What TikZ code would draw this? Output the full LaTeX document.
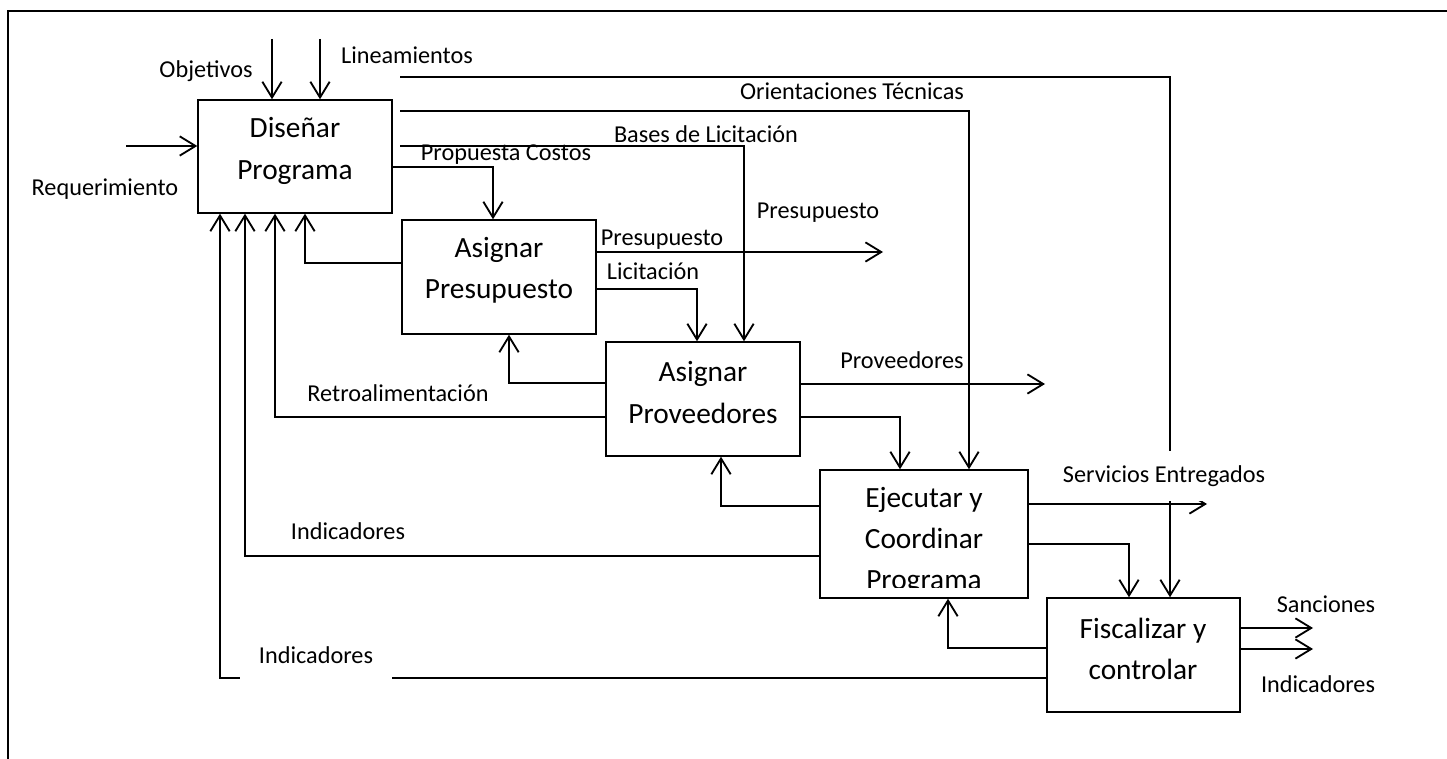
\documentclass[tikz,border=0pt]{standalone}
\usepackage{fontspec}
\setmainfont{Carlito}
\usetikzlibrary{arrows.meta,fit}

\tikzset{
  box/.style={draw, line width=0.8pt, inner sep=0pt},
  boxtext/.style={align=center, font=\fontsize{16.7}{23.5}\selectfont, inner sep=0pt},
  lbl/.style={font=\fontsize{13.8}{16}\selectfont, inner sep=1pt},
  flow/.style={draw, line width=1.05pt, -{Straight Barb[length=9pt,width=11pt]}},
  frame/.style={draw, line width=1.3pt}
}

\begin{document}
\begin{tikzpicture}[x=0.02cm, y=-0.02cm]
\useasboundingbox (0,0) rectangle (1447,759);

% open outer frame (top and left edges only)
\coordinate (fTR) at (1447,11);
\coordinate (fTL) at (8,11);
\coordinate (fBL) at (8,759);
\draw[frame] (fTR) -- (fTL) -- (fBL);

% process boxes
\node[box, fit={(198,100) (392,213)}] (A) {};
\node[box, fit={(402,220) (596,334)}] (B) {};
\node[box, fit={(606,342) (800,456)}] (C) {};
\node[box, fit={(820,470) (1028,598)}] (D) {};
\node[box, fit={(1047,598) (1240,712)}] (E) {};

% box captions
\node[boxtext] (At) at (295,151) {Diseñar\\Programa};
\node[boxtext] (Bt) at (499,270.5) {Asignar\\Presupuesto};
\node[boxtext] (Ct) at (703,392.5) {Asignar\\Proveedores};
\begin{scope}
  \clip (820,470) rectangle (1028,588);
  \node[boxtext, font=\fontsize{16.7}{23.2}\selectfont] (Dt) at (924,541) {Ejecutar y\\Coordinar\\Programa};
\end{scope}
\node[boxtext] (Et) at (1143,649) {Fiscalizar y\\controlar};

% inputs and controls of the first box
\coordinate (obj) at (272,39);
\coordinate (lin) at (320,39);
\coordinate (req) at (126,146);
\draw[flow] (obj) -- (obj |- A.north);
\draw[flow] (lin) -- (lin |- A.north);
\draw[flow] (req) -- (req -| A.west);

% outputs of the first box
\coordinate (o1) at (400,77);  \coordinate (o1c) at (1170,77);
\coordinate (o2) at (400,111); \coordinate (o2c) at (969,111);
\coordinate (o3) at (400,146); \coordinate (o3c) at (744,146);
\coordinate (o4) at (392,167); \coordinate (o4c) at (493,167);
\draw[flow] (o1) -- (o1c) -- (o1c |- E.north);
\draw[flow] (o2) -- (o2c) -- (o2c |- D.north);
\draw[flow] (o3) -- (o3c) -- (o3c |- C.north);
\draw[flow] (o4) -- (o4c) -- (o4c |- B.north);

% outputs of the second box
\coordinate (b1) at (596,252); \coordinate (b1e) at (883,252);
\coordinate (b2) at (596,289); \coordinate (b2c) at (697,289);
\draw[flow] (b1) -- (b1e);
\draw[flow] (b2) -- (b2c) -- (b2c |- C.north);

% outputs of the third box
\coordinate (c1) at (800,384); \coordinate (c1e) at (1045,384);
\coordinate (c2) at (800,417); \coordinate (c2c) at (900,417);
\draw[flow] (c1) -- (c1e);
\draw[flow] (c2) -- (c2c) -- (c2c |- D.north);

% outputs of the fourth box
\coordinate (d1) at (1028,504); \coordinate (d1e) at (1207,504);
\coordinate (d2) at (1028,544); \coordinate (d2c) at (1129,544);
\draw[flow] (d1) -- (d1e);
\draw[flow] (d2) -- (d2c) -- (d2c |- E.north);

% outputs of the fifth box
\coordinate (e1) at (1240,628); \coordinate (e1e) at (1313,628);
\coordinate (e2) at (1240,649); \coordinate (e2e) at (1313,649);
\draw[flow] (e1) -- (e1e);
\draw[flow] (e2) -- (e2e);

% feedback loops
\coordinate (fb1) at (402,263);  \coordinate (fb1c) at (305,263);
\coordinate (fb2) at (606,383);  \coordinate (fb2c) at (509,383);
\coordinate (fb3) at (606,417);  \coordinate (fb3c) at (275,417);
\coordinate (fb4) at (820,506);  \coordinate (fb4c) at (721,506);
\coordinate (fb5) at (820,556);  \coordinate (fb5c) at (245,556);
\coordinate (fb6) at (1047,648); \coordinate (fb6c) at (948,648);
\coordinate (fb7) at (1047,678); \coordinate (fb7c) at (220,678);
\draw[flow] (fb1) -- (fb1c) -- (fb1c |- A.south);
\draw[flow] (fb2) -- (fb2c) -- (fb2c |- B.south);
\draw[flow] (fb3) -- (fb3c) -- (fb3c |- A.south);
\draw[flow] (fb4) -- (fb4c) -- (fb4c |- C.south);
\draw[flow] (fb5) -- (fb5c) -- (fb5c |- A.south);
\draw[flow] (fb6) -- (fb6c) -- (fb6c |- D.south);
\draw[flow] (fb7) -- (fb7c) -- (fb7c |- A.south);

% labels
\node[lbl] (lObj) at (206,71) {Objetivos};
\node[lbl] (lLin) at (407,55) {Lineamientos};
\node[lbl] (lReq) at (105,189) {Requerimiento};
\node[lbl, anchor=east] (lOT) at (966,91) {Orientaciones Técnicas};
\node[lbl] (lBL) at (706,134) {Bases de Licitación};
\node[lbl] (lPC) at (506,155) {Propuesta Costos};
\node[lbl] (lP1) at (662,240) {Presupuesto};
\node[lbl] (lP2) at (818,213) {Presupuesto};
\node[lbl] (lLic) at (653,271) {Licitación};
\node[lbl] (lProv) at (902,360) {Proveedores};
\node[lbl] (lRet) at (398,393) {Retroalimentación};
\node[lbl] (lInd1) at (348,531) {Indicadores};
\node[lbl, fill=white, minimum height=28.5pt] (lSE) at (1164,476) {Servicios Entregados};
\node[lbl, fill=white, minimum height=28.5pt, minimum width=86pt] (lInd2) at (316,655) {Indicadores};
\node[lbl] (lSan) at (1326,604) {Sanciones};
\node[lbl] (lInd3) at (1318,684) {Indicadores};
\end{tikzpicture}
\end{document}
